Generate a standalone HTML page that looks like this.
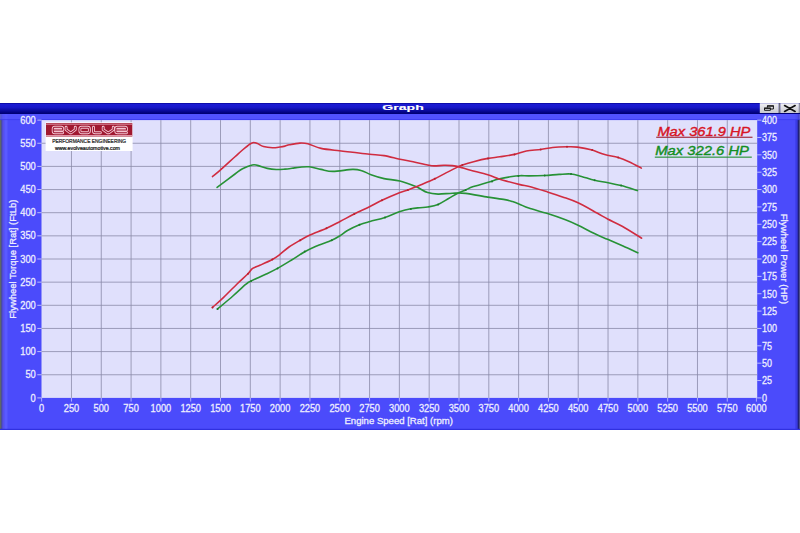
<!DOCTYPE html>
<html><head><meta charset="utf-8"><title>Graph</title>
<style>html,body{margin:0;padding:0;background:#fff;width:800px;height:533px;overflow:hidden;font-family:"Liberation Sans",sans-serif}svg{display:block}</style>
</head><body>
<svg width="800" height="533" viewBox="0 0 800 533">
<defs>
<linearGradient id="tb" x1="0" y1="0" x2="0" y2="1">
<stop offset="0" stop-color="#000088"/>
<stop offset="0.1" stop-color="#1c1cd4"/>
<stop offset="0.4" stop-color="#1818c8"/>
<stop offset="0.92" stop-color="#00007a"/>
<stop offset="1" stop-color="#000070"/>
</linearGradient>
<linearGradient id="btn" x1="0" y1="0" x2="0" y2="1">
<stop offset="0" stop-color="#f0f0f4"/>
<stop offset="1" stop-color="#c8c8d0"/>
</linearGradient>
</defs>
<rect x="0" y="0" width="800" height="533" fill="#ffffff"/>
<rect x="0" y="103" width="800" height="327" fill="#4b4bfb"/>
<rect x="0" y="103" width="1.6" height="327" fill="#5f6868"/>
<rect x="1.6" y="103" width="0.9" height="327" fill="#40408a"/>
<rect x="2.5" y="103" width="2" height="327" fill="#5850e8"/>
<rect x="4.5" y="103" width="3" height="327" fill="#5a5aff"/>
<rect x="795.4" y="103" width="2.2" height="327" fill="#3a3ae4"/>
<rect x="797.6" y="103" width="1.4" height="327" fill="#202078"/>
<rect x="799" y="103" width="1" height="327" fill="#505088"/>
<rect x="0" y="428.8" width="800" height="1.2" fill="#3030e0"/>
<rect x="0" y="103" width="800" height="11" fill="url(#tb)"/>
<rect x="0" y="114" width="800" height="5" fill="#5656ff" opacity="0.7"/>
<rect x="0" y="119" width="800" height="1.1" fill="#3c3cf0" opacity="0.8"/>
<text x="403" y="110.0" fill="#ffffff" stroke="#ffffff" stroke-width="0.1" font-family="Liberation Sans" font-weight="bold" font-size="6.6" textLength="41.5" lengthAdjust="spacingAndGlyphs" text-anchor="middle">Graph</text>
<rect x="759.8" y="103.2" width="19" height="9.8" fill="url(#btn)"/>
<rect x="780.2" y="103.2" width="18.7" height="9.8" fill="url(#btn)"/>
<rect x="778.8" y="103.2" width="1.4" height="9.8" fill="#707078"/>
<rect x="798.9" y="103.2" width="1.1" height="9.8" fill="#9090a0"/>
<path d="M764.5 110.3 V108.2 H770.4 V110.3 Z" fill="none" stroke="#181818" stroke-width="1"/>
<rect x="764" y="107.6" width="6.9" height="1.2" fill="#181818"/>
<path d="M767.4 107.6 V105.9 H773.4 V109 H770.9" fill="none" stroke="#181818" stroke-width="1"/>
<rect x="767" y="105.4" width="6.9" height="1.2" fill="#181818"/>
<path d="M784.6 105.6 L795.1 111.4 M795.1 105.6 L784.6 111.4" stroke="#101010" stroke-width="1.7" stroke-linecap="round"/>
<rect x="41.5" y="120.1" width="715.70" height="277.80" fill="#e0e0fc"/>
<line x1="71.46" y1="120.1" x2="71.46" y2="397.9" stroke="#8a8aa8" stroke-width="0.8"/>
<line x1="101.27" y1="120.1" x2="101.27" y2="397.9" stroke="#8a8aa8" stroke-width="0.8"/>
<line x1="131.08" y1="120.1" x2="131.08" y2="397.9" stroke="#8a8aa8" stroke-width="0.8"/>
<line x1="160.89" y1="120.1" x2="160.89" y2="397.9" stroke="#8a8aa8" stroke-width="0.8"/>
<line x1="190.70" y1="120.1" x2="190.70" y2="397.9" stroke="#8a8aa8" stroke-width="0.8"/>
<line x1="220.51" y1="120.1" x2="220.51" y2="397.9" stroke="#8a8aa8" stroke-width="0.8"/>
<line x1="250.32" y1="120.1" x2="250.32" y2="397.9" stroke="#8a8aa8" stroke-width="0.8"/>
<line x1="280.13" y1="120.1" x2="280.13" y2="397.9" stroke="#8a8aa8" stroke-width="0.8"/>
<line x1="309.94" y1="120.1" x2="309.94" y2="397.9" stroke="#8a8aa8" stroke-width="0.8"/>
<line x1="339.75" y1="120.1" x2="339.75" y2="397.9" stroke="#8a8aa8" stroke-width="0.8"/>
<line x1="369.56" y1="120.1" x2="369.56" y2="397.9" stroke="#8a8aa8" stroke-width="0.8"/>
<line x1="399.37" y1="120.1" x2="399.37" y2="397.9" stroke="#8a8aa8" stroke-width="0.8"/>
<line x1="429.18" y1="120.1" x2="429.18" y2="397.9" stroke="#8a8aa8" stroke-width="0.8"/>
<line x1="458.99" y1="120.1" x2="458.99" y2="397.9" stroke="#8a8aa8" stroke-width="0.8"/>
<line x1="488.80" y1="120.1" x2="488.80" y2="397.9" stroke="#8a8aa8" stroke-width="0.8"/>
<line x1="518.61" y1="120.1" x2="518.61" y2="397.9" stroke="#8a8aa8" stroke-width="0.8"/>
<line x1="548.42" y1="120.1" x2="548.42" y2="397.9" stroke="#8a8aa8" stroke-width="0.8"/>
<line x1="578.23" y1="120.1" x2="578.23" y2="397.9" stroke="#8a8aa8" stroke-width="0.8"/>
<line x1="608.04" y1="120.1" x2="608.04" y2="397.9" stroke="#8a8aa8" stroke-width="0.8"/>
<line x1="637.85" y1="120.1" x2="637.85" y2="397.9" stroke="#8a8aa8" stroke-width="0.8"/>
<line x1="667.66" y1="120.1" x2="667.66" y2="397.9" stroke="#8a8aa8" stroke-width="0.8"/>
<line x1="697.47" y1="120.1" x2="697.47" y2="397.9" stroke="#8a8aa8" stroke-width="0.8"/>
<line x1="727.28" y1="120.1" x2="727.28" y2="397.9" stroke="#8a8aa8" stroke-width="0.8"/>
<line x1="41.5" y1="143.25" x2="757.2" y2="143.25" stroke="#8a8aa8" stroke-width="0.8"/>
<line x1="41.5" y1="166.40" x2="757.2" y2="166.40" stroke="#8a8aa8" stroke-width="0.8"/>
<line x1="41.5" y1="189.55" x2="757.2" y2="189.55" stroke="#8a8aa8" stroke-width="0.8"/>
<line x1="41.5" y1="212.70" x2="757.2" y2="212.70" stroke="#8a8aa8" stroke-width="0.8"/>
<line x1="41.5" y1="235.85" x2="757.2" y2="235.85" stroke="#8a8aa8" stroke-width="0.8"/>
<line x1="41.5" y1="259.00" x2="757.2" y2="259.00" stroke="#8a8aa8" stroke-width="0.8"/>
<line x1="41.5" y1="282.15" x2="757.2" y2="282.15" stroke="#8a8aa8" stroke-width="0.8"/>
<line x1="41.5" y1="305.30" x2="757.2" y2="305.30" stroke="#8a8aa8" stroke-width="0.8"/>
<line x1="41.5" y1="328.45" x2="757.2" y2="328.45" stroke="#8a8aa8" stroke-width="0.8"/>
<line x1="41.5" y1="351.60" x2="757.2" y2="351.60" stroke="#8a8aa8" stroke-width="0.8"/>
<line x1="41.5" y1="374.75" x2="757.2" y2="374.75" stroke="#8a8aa8" stroke-width="0.8"/>
<line x1="37.3" y1="397.90" x2="41.5" y2="397.90" stroke="#c8c8ff" stroke-width="0.9"/>
<text x="35.8" y="401.50" fill="#eeeeff" stroke="#eeeeff" stroke-width="0.28" font-family="Liberation Sans" font-size="10.3" text-anchor="end" textLength="5.20" lengthAdjust="spacingAndGlyphs">0</text>
<line x1="37.3" y1="374.75" x2="41.5" y2="374.75" stroke="#c8c8ff" stroke-width="0.9"/>
<text x="35.8" y="378.35" fill="#eeeeff" stroke="#eeeeff" stroke-width="0.28" font-family="Liberation Sans" font-size="10.3" text-anchor="end" textLength="10.40" lengthAdjust="spacingAndGlyphs">50</text>
<line x1="37.3" y1="351.60" x2="41.5" y2="351.60" stroke="#c8c8ff" stroke-width="0.9"/>
<text x="35.8" y="355.20" fill="#eeeeff" stroke="#eeeeff" stroke-width="0.28" font-family="Liberation Sans" font-size="10.3" text-anchor="end" textLength="15.60" lengthAdjust="spacingAndGlyphs">100</text>
<line x1="37.3" y1="328.45" x2="41.5" y2="328.45" stroke="#c8c8ff" stroke-width="0.9"/>
<text x="35.8" y="332.05" fill="#eeeeff" stroke="#eeeeff" stroke-width="0.28" font-family="Liberation Sans" font-size="10.3" text-anchor="end" textLength="15.60" lengthAdjust="spacingAndGlyphs">150</text>
<line x1="37.3" y1="305.30" x2="41.5" y2="305.30" stroke="#c8c8ff" stroke-width="0.9"/>
<text x="35.8" y="308.90" fill="#eeeeff" stroke="#eeeeff" stroke-width="0.28" font-family="Liberation Sans" font-size="10.3" text-anchor="end" textLength="15.60" lengthAdjust="spacingAndGlyphs">200</text>
<line x1="37.3" y1="282.15" x2="41.5" y2="282.15" stroke="#c8c8ff" stroke-width="0.9"/>
<text x="35.8" y="285.75" fill="#eeeeff" stroke="#eeeeff" stroke-width="0.28" font-family="Liberation Sans" font-size="10.3" text-anchor="end" textLength="15.60" lengthAdjust="spacingAndGlyphs">250</text>
<line x1="37.3" y1="259.00" x2="41.5" y2="259.00" stroke="#c8c8ff" stroke-width="0.9"/>
<text x="35.8" y="262.60" fill="#eeeeff" stroke="#eeeeff" stroke-width="0.28" font-family="Liberation Sans" font-size="10.3" text-anchor="end" textLength="15.60" lengthAdjust="spacingAndGlyphs">300</text>
<line x1="37.3" y1="235.85" x2="41.5" y2="235.85" stroke="#c8c8ff" stroke-width="0.9"/>
<text x="35.8" y="239.45" fill="#eeeeff" stroke="#eeeeff" stroke-width="0.28" font-family="Liberation Sans" font-size="10.3" text-anchor="end" textLength="15.60" lengthAdjust="spacingAndGlyphs">350</text>
<line x1="37.3" y1="212.70" x2="41.5" y2="212.70" stroke="#c8c8ff" stroke-width="0.9"/>
<text x="35.8" y="216.30" fill="#eeeeff" stroke="#eeeeff" stroke-width="0.28" font-family="Liberation Sans" font-size="10.3" text-anchor="end" textLength="15.60" lengthAdjust="spacingAndGlyphs">400</text>
<line x1="37.3" y1="189.55" x2="41.5" y2="189.55" stroke="#c8c8ff" stroke-width="0.9"/>
<text x="35.8" y="193.15" fill="#eeeeff" stroke="#eeeeff" stroke-width="0.28" font-family="Liberation Sans" font-size="10.3" text-anchor="end" textLength="15.60" lengthAdjust="spacingAndGlyphs">450</text>
<line x1="37.3" y1="166.40" x2="41.5" y2="166.40" stroke="#c8c8ff" stroke-width="0.9"/>
<text x="35.8" y="170.00" fill="#eeeeff" stroke="#eeeeff" stroke-width="0.28" font-family="Liberation Sans" font-size="10.3" text-anchor="end" textLength="15.60" lengthAdjust="spacingAndGlyphs">500</text>
<line x1="37.3" y1="143.25" x2="41.5" y2="143.25" stroke="#c8c8ff" stroke-width="0.9"/>
<text x="35.8" y="146.85" fill="#eeeeff" stroke="#eeeeff" stroke-width="0.28" font-family="Liberation Sans" font-size="10.3" text-anchor="end" textLength="15.60" lengthAdjust="spacingAndGlyphs">550</text>
<line x1="37.3" y1="120.10" x2="41.5" y2="120.10" stroke="#c8c8ff" stroke-width="0.9"/>
<text x="35.8" y="123.70" fill="#eeeeff" stroke="#eeeeff" stroke-width="0.28" font-family="Liberation Sans" font-size="10.3" text-anchor="end" textLength="15.60" lengthAdjust="spacingAndGlyphs">600</text>
<line x1="757.2" y1="397.90" x2="761.5" y2="397.90" stroke="#c8c8ff" stroke-width="0.9"/>
<text x="762.0" y="401.70" fill="#eeeeff" stroke="#eeeeff" stroke-width="0.28" font-family="Liberation Sans" font-size="10.3" text-anchor="start" textLength="5.00" lengthAdjust="spacingAndGlyphs">0</text>
<line x1="757.2" y1="380.54" x2="761.5" y2="380.54" stroke="#c8c8ff" stroke-width="0.9"/>
<text x="762.0" y="384.34" fill="#eeeeff" stroke="#eeeeff" stroke-width="0.28" font-family="Liberation Sans" font-size="10.3" text-anchor="start" textLength="10.00" lengthAdjust="spacingAndGlyphs">25</text>
<line x1="757.2" y1="363.17" x2="761.5" y2="363.17" stroke="#c8c8ff" stroke-width="0.9"/>
<text x="762.0" y="366.97" fill="#eeeeff" stroke="#eeeeff" stroke-width="0.28" font-family="Liberation Sans" font-size="10.3" text-anchor="start" textLength="10.00" lengthAdjust="spacingAndGlyphs">50</text>
<line x1="757.2" y1="345.81" x2="761.5" y2="345.81" stroke="#c8c8ff" stroke-width="0.9"/>
<text x="762.0" y="349.61" fill="#eeeeff" stroke="#eeeeff" stroke-width="0.28" font-family="Liberation Sans" font-size="10.3" text-anchor="start" textLength="10.00" lengthAdjust="spacingAndGlyphs">75</text>
<line x1="757.2" y1="328.45" x2="761.5" y2="328.45" stroke="#c8c8ff" stroke-width="0.9"/>
<text x="762.0" y="332.25" fill="#eeeeff" stroke="#eeeeff" stroke-width="0.28" font-family="Liberation Sans" font-size="10.3" text-anchor="start" textLength="15.00" lengthAdjust="spacingAndGlyphs">100</text>
<line x1="757.2" y1="311.09" x2="761.5" y2="311.09" stroke="#c8c8ff" stroke-width="0.9"/>
<text x="762.0" y="314.89" fill="#eeeeff" stroke="#eeeeff" stroke-width="0.28" font-family="Liberation Sans" font-size="10.3" text-anchor="start" textLength="15.00" lengthAdjust="spacingAndGlyphs">125</text>
<line x1="757.2" y1="293.73" x2="761.5" y2="293.73" stroke="#c8c8ff" stroke-width="0.9"/>
<text x="762.0" y="297.53" fill="#eeeeff" stroke="#eeeeff" stroke-width="0.28" font-family="Liberation Sans" font-size="10.3" text-anchor="start" textLength="15.00" lengthAdjust="spacingAndGlyphs">150</text>
<line x1="757.2" y1="276.36" x2="761.5" y2="276.36" stroke="#c8c8ff" stroke-width="0.9"/>
<text x="762.0" y="280.16" fill="#eeeeff" stroke="#eeeeff" stroke-width="0.28" font-family="Liberation Sans" font-size="10.3" text-anchor="start" textLength="15.00" lengthAdjust="spacingAndGlyphs">175</text>
<line x1="757.2" y1="259.00" x2="761.5" y2="259.00" stroke="#c8c8ff" stroke-width="0.9"/>
<text x="762.0" y="262.80" fill="#eeeeff" stroke="#eeeeff" stroke-width="0.28" font-family="Liberation Sans" font-size="10.3" text-anchor="start" textLength="15.00" lengthAdjust="spacingAndGlyphs">200</text>
<line x1="757.2" y1="241.64" x2="761.5" y2="241.64" stroke="#c8c8ff" stroke-width="0.9"/>
<text x="762.0" y="245.44" fill="#eeeeff" stroke="#eeeeff" stroke-width="0.28" font-family="Liberation Sans" font-size="10.3" text-anchor="start" textLength="15.00" lengthAdjust="spacingAndGlyphs">225</text>
<line x1="757.2" y1="224.28" x2="761.5" y2="224.28" stroke="#c8c8ff" stroke-width="0.9"/>
<text x="762.0" y="228.08" fill="#eeeeff" stroke="#eeeeff" stroke-width="0.28" font-family="Liberation Sans" font-size="10.3" text-anchor="start" textLength="15.00" lengthAdjust="spacingAndGlyphs">250</text>
<line x1="757.2" y1="206.91" x2="761.5" y2="206.91" stroke="#c8c8ff" stroke-width="0.9"/>
<text x="762.0" y="210.71" fill="#eeeeff" stroke="#eeeeff" stroke-width="0.28" font-family="Liberation Sans" font-size="10.3" text-anchor="start" textLength="15.00" lengthAdjust="spacingAndGlyphs">275</text>
<line x1="757.2" y1="189.55" x2="761.5" y2="189.55" stroke="#c8c8ff" stroke-width="0.9"/>
<text x="762.0" y="193.35" fill="#eeeeff" stroke="#eeeeff" stroke-width="0.28" font-family="Liberation Sans" font-size="10.3" text-anchor="start" textLength="15.00" lengthAdjust="spacingAndGlyphs">300</text>
<line x1="757.2" y1="172.19" x2="761.5" y2="172.19" stroke="#c8c8ff" stroke-width="0.9"/>
<text x="762.0" y="175.99" fill="#eeeeff" stroke="#eeeeff" stroke-width="0.28" font-family="Liberation Sans" font-size="10.3" text-anchor="start" textLength="15.00" lengthAdjust="spacingAndGlyphs">325</text>
<line x1="757.2" y1="154.83" x2="761.5" y2="154.83" stroke="#c8c8ff" stroke-width="0.9"/>
<text x="762.0" y="158.63" fill="#eeeeff" stroke="#eeeeff" stroke-width="0.28" font-family="Liberation Sans" font-size="10.3" text-anchor="start" textLength="15.00" lengthAdjust="spacingAndGlyphs">350</text>
<line x1="757.2" y1="137.46" x2="761.5" y2="137.46" stroke="#c8c8ff" stroke-width="0.9"/>
<text x="762.0" y="141.26" fill="#eeeeff" stroke="#eeeeff" stroke-width="0.28" font-family="Liberation Sans" font-size="10.3" text-anchor="start" textLength="15.00" lengthAdjust="spacingAndGlyphs">375</text>
<line x1="757.2" y1="120.10" x2="761.5" y2="120.10" stroke="#c8c8ff" stroke-width="0.9"/>
<text x="762.0" y="123.90" fill="#eeeeff" stroke="#eeeeff" stroke-width="0.28" font-family="Liberation Sans" font-size="10.3" text-anchor="start" textLength="15.00" lengthAdjust="spacingAndGlyphs">400</text>
<line x1="41.65" y1="397.9" x2="41.65" y2="401.6" stroke="#c8c8ff" stroke-width="0.8"/>
<text x="41.65" y="412.0" fill="#eeeeff" stroke="#eeeeff" stroke-width="0.28" font-family="Liberation Sans" font-size="10.2" text-anchor="middle" textLength="5.15" lengthAdjust="spacingAndGlyphs">0</text>
<line x1="71.46" y1="397.9" x2="71.46" y2="401.6" stroke="#c8c8ff" stroke-width="0.8"/>
<text x="71.46" y="412.0" fill="#eeeeff" stroke="#eeeeff" stroke-width="0.28" font-family="Liberation Sans" font-size="10.2" text-anchor="middle" textLength="15.45" lengthAdjust="spacingAndGlyphs">250</text>
<line x1="101.27" y1="397.9" x2="101.27" y2="401.6" stroke="#c8c8ff" stroke-width="0.8"/>
<text x="101.27" y="412.0" fill="#eeeeff" stroke="#eeeeff" stroke-width="0.28" font-family="Liberation Sans" font-size="10.2" text-anchor="middle" textLength="15.45" lengthAdjust="spacingAndGlyphs">500</text>
<line x1="131.08" y1="397.9" x2="131.08" y2="401.6" stroke="#c8c8ff" stroke-width="0.8"/>
<text x="131.08" y="412.0" fill="#eeeeff" stroke="#eeeeff" stroke-width="0.28" font-family="Liberation Sans" font-size="10.2" text-anchor="middle" textLength="15.45" lengthAdjust="spacingAndGlyphs">750</text>
<line x1="160.89" y1="397.9" x2="160.89" y2="401.6" stroke="#c8c8ff" stroke-width="0.8"/>
<text x="160.89" y="412.0" fill="#eeeeff" stroke="#eeeeff" stroke-width="0.28" font-family="Liberation Sans" font-size="10.2" text-anchor="middle" textLength="20.60" lengthAdjust="spacingAndGlyphs">1000</text>
<line x1="190.70" y1="397.9" x2="190.70" y2="401.6" stroke="#c8c8ff" stroke-width="0.8"/>
<text x="190.70" y="412.0" fill="#eeeeff" stroke="#eeeeff" stroke-width="0.28" font-family="Liberation Sans" font-size="10.2" text-anchor="middle" textLength="20.60" lengthAdjust="spacingAndGlyphs">1250</text>
<line x1="220.51" y1="397.9" x2="220.51" y2="401.6" stroke="#c8c8ff" stroke-width="0.8"/>
<text x="220.51" y="412.0" fill="#eeeeff" stroke="#eeeeff" stroke-width="0.28" font-family="Liberation Sans" font-size="10.2" text-anchor="middle" textLength="20.60" lengthAdjust="spacingAndGlyphs">1500</text>
<line x1="250.32" y1="397.9" x2="250.32" y2="401.6" stroke="#c8c8ff" stroke-width="0.8"/>
<text x="250.32" y="412.0" fill="#eeeeff" stroke="#eeeeff" stroke-width="0.28" font-family="Liberation Sans" font-size="10.2" text-anchor="middle" textLength="20.60" lengthAdjust="spacingAndGlyphs">1750</text>
<line x1="280.13" y1="397.9" x2="280.13" y2="401.6" stroke="#c8c8ff" stroke-width="0.8"/>
<text x="280.13" y="412.0" fill="#eeeeff" stroke="#eeeeff" stroke-width="0.28" font-family="Liberation Sans" font-size="10.2" text-anchor="middle" textLength="20.60" lengthAdjust="spacingAndGlyphs">2000</text>
<line x1="309.94" y1="397.9" x2="309.94" y2="401.6" stroke="#c8c8ff" stroke-width="0.8"/>
<text x="309.94" y="412.0" fill="#eeeeff" stroke="#eeeeff" stroke-width="0.28" font-family="Liberation Sans" font-size="10.2" text-anchor="middle" textLength="20.60" lengthAdjust="spacingAndGlyphs">2250</text>
<line x1="339.75" y1="397.9" x2="339.75" y2="401.6" stroke="#c8c8ff" stroke-width="0.8"/>
<text x="339.75" y="412.0" fill="#eeeeff" stroke="#eeeeff" stroke-width="0.28" font-family="Liberation Sans" font-size="10.2" text-anchor="middle" textLength="20.60" lengthAdjust="spacingAndGlyphs">2500</text>
<line x1="369.56" y1="397.9" x2="369.56" y2="401.6" stroke="#c8c8ff" stroke-width="0.8"/>
<text x="369.56" y="412.0" fill="#eeeeff" stroke="#eeeeff" stroke-width="0.28" font-family="Liberation Sans" font-size="10.2" text-anchor="middle" textLength="20.60" lengthAdjust="spacingAndGlyphs">2750</text>
<line x1="399.37" y1="397.9" x2="399.37" y2="401.6" stroke="#c8c8ff" stroke-width="0.8"/>
<text x="399.37" y="412.0" fill="#eeeeff" stroke="#eeeeff" stroke-width="0.28" font-family="Liberation Sans" font-size="10.2" text-anchor="middle" textLength="20.60" lengthAdjust="spacingAndGlyphs">3000</text>
<line x1="429.18" y1="397.9" x2="429.18" y2="401.6" stroke="#c8c8ff" stroke-width="0.8"/>
<text x="429.18" y="412.0" fill="#eeeeff" stroke="#eeeeff" stroke-width="0.28" font-family="Liberation Sans" font-size="10.2" text-anchor="middle" textLength="20.60" lengthAdjust="spacingAndGlyphs">3250</text>
<line x1="458.99" y1="397.9" x2="458.99" y2="401.6" stroke="#c8c8ff" stroke-width="0.8"/>
<text x="458.99" y="412.0" fill="#eeeeff" stroke="#eeeeff" stroke-width="0.28" font-family="Liberation Sans" font-size="10.2" text-anchor="middle" textLength="20.60" lengthAdjust="spacingAndGlyphs">3500</text>
<line x1="488.80" y1="397.9" x2="488.80" y2="401.6" stroke="#c8c8ff" stroke-width="0.8"/>
<text x="488.80" y="412.0" fill="#eeeeff" stroke="#eeeeff" stroke-width="0.28" font-family="Liberation Sans" font-size="10.2" text-anchor="middle" textLength="20.60" lengthAdjust="spacingAndGlyphs">3750</text>
<line x1="518.61" y1="397.9" x2="518.61" y2="401.6" stroke="#c8c8ff" stroke-width="0.8"/>
<text x="518.61" y="412.0" fill="#eeeeff" stroke="#eeeeff" stroke-width="0.28" font-family="Liberation Sans" font-size="10.2" text-anchor="middle" textLength="20.60" lengthAdjust="spacingAndGlyphs">4000</text>
<line x1="548.42" y1="397.9" x2="548.42" y2="401.6" stroke="#c8c8ff" stroke-width="0.8"/>
<text x="548.42" y="412.0" fill="#eeeeff" stroke="#eeeeff" stroke-width="0.28" font-family="Liberation Sans" font-size="10.2" text-anchor="middle" textLength="20.60" lengthAdjust="spacingAndGlyphs">4250</text>
<line x1="578.23" y1="397.9" x2="578.23" y2="401.6" stroke="#c8c8ff" stroke-width="0.8"/>
<text x="578.23" y="412.0" fill="#eeeeff" stroke="#eeeeff" stroke-width="0.28" font-family="Liberation Sans" font-size="10.2" text-anchor="middle" textLength="20.60" lengthAdjust="spacingAndGlyphs">4500</text>
<line x1="608.04" y1="397.9" x2="608.04" y2="401.6" stroke="#c8c8ff" stroke-width="0.8"/>
<text x="608.04" y="412.0" fill="#eeeeff" stroke="#eeeeff" stroke-width="0.28" font-family="Liberation Sans" font-size="10.2" text-anchor="middle" textLength="20.60" lengthAdjust="spacingAndGlyphs">4750</text>
<line x1="637.85" y1="397.9" x2="637.85" y2="401.6" stroke="#c8c8ff" stroke-width="0.8"/>
<text x="637.85" y="412.0" fill="#eeeeff" stroke="#eeeeff" stroke-width="0.28" font-family="Liberation Sans" font-size="10.2" text-anchor="middle" textLength="20.60" lengthAdjust="spacingAndGlyphs">5000</text>
<line x1="667.66" y1="397.9" x2="667.66" y2="401.6" stroke="#c8c8ff" stroke-width="0.8"/>
<text x="667.66" y="412.0" fill="#eeeeff" stroke="#eeeeff" stroke-width="0.28" font-family="Liberation Sans" font-size="10.2" text-anchor="middle" textLength="20.60" lengthAdjust="spacingAndGlyphs">5250</text>
<line x1="697.47" y1="397.9" x2="697.47" y2="401.6" stroke="#c8c8ff" stroke-width="0.8"/>
<text x="697.47" y="412.0" fill="#eeeeff" stroke="#eeeeff" stroke-width="0.28" font-family="Liberation Sans" font-size="10.2" text-anchor="middle" textLength="20.60" lengthAdjust="spacingAndGlyphs">5500</text>
<line x1="727.28" y1="397.9" x2="727.28" y2="401.6" stroke="#c8c8ff" stroke-width="0.8"/>
<text x="727.28" y="412.0" fill="#eeeeff" stroke="#eeeeff" stroke-width="0.28" font-family="Liberation Sans" font-size="10.2" text-anchor="middle" textLength="20.60" lengthAdjust="spacingAndGlyphs">5750</text>
<line x1="756.40" y1="397.9" x2="756.40" y2="401.6" stroke="#c8c8ff" stroke-width="0.8"/>
<text x="756.40" y="412.0" fill="#eeeeff" stroke="#eeeeff" stroke-width="0.28" font-family="Liberation Sans" font-size="10.2" text-anchor="middle" textLength="20.60" lengthAdjust="spacingAndGlyphs">6000</text>
<text x="398.7" y="424.0" fill="#eeeeff" stroke="#eeeeff" stroke-width="0.28" font-family="Liberation Sans" font-size="9.5" text-anchor="middle" textLength="108.5" lengthAdjust="spacingAndGlyphs">Engine Speed [Rat] (rpm)</text>
<text transform="translate(16.2 259.2) rotate(-90)" x="0" y="0" fill="#eeeeff" stroke="#eeeeff" stroke-width="0.28" font-family="Liberation Sans" font-size="9.5" text-anchor="middle" textLength="119" lengthAdjust="spacingAndGlyphs">Flywheel Torque [Rat] (FtLb)</text>
<text transform="translate(781.2 258.9) rotate(90)" x="0" y="0" fill="#eeeeff" stroke="#eeeeff" stroke-width="0.28" font-family="Liberation Sans" font-size="9.5" text-anchor="middle" textLength="90.5" lengthAdjust="spacingAndGlyphs">Flywheel Power (HP)</text>
<path d="M217.10 187.40 C220.08 185.17 230.77 177.11 235.00 174.00 C239.23 170.89 239.62 170.25 242.50 168.75 C245.38 167.25 249.75 165.56 252.25 165.00 C254.75 164.44 255.00 164.83 257.50 165.40 C260.00 165.97 264.12 167.72 267.25 168.40 C270.38 169.08 273.29 169.38 276.25 169.50 C279.21 169.62 282.38 169.30 285.00 169.10 C287.62 168.90 289.52 168.62 292.00 168.30 C294.48 167.98 297.03 167.45 299.90 167.20 C302.77 166.95 305.68 166.43 309.20 166.80 C312.72 167.17 317.05 168.63 321.00 169.40 C324.95 170.17 327.63 171.40 332.90 171.40 C338.17 171.40 347.78 169.52 352.60 169.40 C357.42 169.28 358.73 169.82 361.80 170.70 C364.87 171.58 367.28 173.38 371.00 174.70 C374.72 176.02 379.28 177.55 384.10 178.60 C388.92 179.65 394.62 179.67 399.90 181.00 C405.18 182.33 411.18 184.67 415.80 186.60 C420.42 188.53 423.88 191.35 427.60 192.60 C431.32 193.85 433.93 194.00 438.10 194.10 C442.27 194.20 448.03 193.32 452.60 193.20 C457.17 193.08 459.63 192.75 465.50 193.40 C471.37 194.05 481.23 196.07 487.80 197.10 C494.37 198.13 500.78 198.85 504.90 199.60 C509.02 200.35 509.98 200.80 512.50 201.60 C515.02 202.40 517.29 203.32 520.00 204.40 C522.71 205.48 524.17 206.57 528.75 208.10 C533.33 209.63 541.38 211.65 547.50 213.60 C553.62 215.55 560.50 217.90 565.50 219.80 C570.50 221.70 572.25 222.50 577.50 225.00 C582.75 227.50 591.98 232.42 597.00 234.80 C602.02 237.18 603.27 237.43 607.60 239.30 C611.93 241.17 617.97 243.75 623.00 246.00 C628.03 248.25 635.33 251.67 637.80 252.80" fill="none" stroke="#279236" stroke-width="1.6" stroke-linejoin="round" stroke-linecap="round"/>
<path d="M217.50 309.10 C220.07 306.92 228.15 300.15 232.90 296.00 C237.65 291.85 242.95 286.72 246.00 284.20 C249.05 281.68 247.92 282.55 251.20 280.90 C254.48 279.25 261.32 276.38 265.70 274.30 C270.08 272.22 273.12 270.82 277.50 268.40 C281.88 265.97 287.46 262.52 292.00 259.75 C296.54 256.98 300.75 254.05 304.75 251.80 C308.75 249.55 311.50 248.18 316.00 246.25 C320.50 244.32 327.75 242.00 331.75 240.25 C335.75 238.50 337.38 237.38 340.00 235.75 C342.62 234.12 344.25 232.32 347.50 230.50 C350.75 228.68 355.75 226.30 359.50 224.80 C363.25 223.30 365.75 222.72 370.00 221.50 C374.25 220.28 380.00 219.10 385.00 217.45 C390.00 215.80 395.68 213.04 400.00 211.60 C404.32 210.16 407.57 209.45 410.90 208.80 C414.23 208.15 417.22 208.00 420.00 207.70 C422.78 207.40 424.58 207.55 427.60 207.00 C430.62 206.45 434.60 205.82 438.10 204.40 C441.60 202.98 445.32 200.37 448.60 198.50 C451.88 196.63 454.95 194.63 457.80 193.20 C460.65 191.77 463.10 191.00 465.70 189.90 C468.30 188.80 468.83 188.13 473.40 186.60 C477.97 185.07 488.73 182.02 493.10 180.70 C497.47 179.38 496.75 179.35 499.60 178.70 C502.45 178.05 506.80 177.30 510.20 176.80 C513.60 176.30 516.88 175.85 520.00 175.70 C523.12 175.55 524.78 175.93 528.90 175.90 C533.02 175.87 539.67 175.75 544.70 175.50 C549.73 175.25 554.72 174.65 559.10 174.40 C563.48 174.15 567.27 173.67 571.00 174.00 C574.73 174.33 577.57 175.35 581.50 176.40 C585.43 177.45 590.17 179.25 594.60 180.30 C599.03 181.35 603.68 181.82 608.10 182.70 C612.52 183.58 616.22 184.28 621.10 185.60 C625.98 186.92 634.68 189.77 637.40 190.60" fill="none" stroke="#279236" stroke-width="1.6" stroke-linejoin="round" stroke-linecap="round"/>
<path d="M212.50 176.60 C213.70 175.62 215.95 174.01 219.70 170.70 C223.45 167.39 231.20 160.20 235.00 156.75 C238.80 153.30 240.00 152.12 242.50 150.00 C245.00 147.88 248.12 145.25 250.00 144.00 C251.88 142.75 252.50 142.57 253.75 142.50 C255.00 142.43 255.88 142.92 257.50 143.60 C259.12 144.28 261.00 145.91 263.50 146.60 C266.00 147.29 269.75 147.68 272.50 147.75 C275.25 147.82 277.92 147.28 280.00 147.00 C282.08 146.72 283.43 146.47 285.00 146.10 C286.57 145.73 286.92 145.30 289.40 144.80 C291.88 144.30 296.82 143.27 299.90 143.10 C302.98 142.93 304.38 142.92 307.90 143.80 C311.42 144.68 315.75 147.23 321.00 148.40 C326.25 149.57 334.13 150.15 339.40 150.80 C344.67 151.45 347.57 151.72 352.60 152.30 C357.63 152.88 364.35 153.75 369.60 154.30 C374.85 154.85 379.05 154.78 384.10 155.60 C389.15 156.42 395.07 158.18 399.90 159.20 C404.73 160.22 408.48 160.73 413.10 161.70 C417.72 162.67 424.10 164.30 427.60 165.00 C431.10 165.70 431.38 165.85 434.10 165.90 C436.82 165.95 440.85 165.35 443.90 165.30 C446.95 165.25 449.72 165.30 452.40 165.60 C455.08 165.90 457.13 166.37 460.00 167.10 C462.87 167.83 464.97 168.72 469.60 170.00 C474.23 171.28 483.02 173.35 487.80 174.80 C492.58 176.25 495.02 177.60 498.30 178.70 C501.58 179.80 503.88 180.42 507.50 181.40 C511.12 182.38 516.04 183.68 520.00 184.60 C523.96 185.52 526.67 185.68 531.25 186.90 C535.83 188.12 542.29 190.23 547.50 191.90 C552.71 193.57 557.50 195.12 562.50 196.90 C567.50 198.68 571.75 199.92 577.50 202.60 C583.25 205.28 591.98 210.27 597.00 213.00 C602.02 215.73 603.33 216.75 607.60 219.00 C611.87 221.25 616.93 223.30 622.60 226.50 C628.27 229.70 638.43 236.25 641.60 238.20" fill="none" stroke="#d02c40" stroke-width="1.6" stroke-linejoin="round" stroke-linecap="round"/>
<path d="M212.50 307.40 C214.13 305.93 218.25 302.47 222.30 298.60 C226.35 294.73 232.52 288.35 236.80 284.20 C241.08 280.05 245.37 276.33 248.00 273.70 C250.63 271.07 250.53 269.83 252.60 268.40 C254.67 266.97 257.12 266.58 260.40 265.10 C263.68 263.62 269.23 261.13 272.30 259.50 C275.37 257.87 276.02 257.38 278.80 255.30 C281.58 253.22 285.43 249.51 289.00 247.00 C292.57 244.49 296.75 242.25 300.25 240.25 C303.75 238.25 305.62 237.00 310.00 235.00 C314.38 233.00 321.50 230.50 326.50 228.25 C331.50 226.00 335.38 223.88 340.00 221.50 C344.62 219.12 349.25 216.50 354.25 214.00 C359.25 211.50 365.38 208.80 370.00 206.50 C374.62 204.20 377.00 202.55 382.00 200.20 C387.00 197.85 395.68 194.12 400.00 192.40 C404.32 190.68 404.40 191.18 407.90 189.90 C411.40 188.62 416.52 186.55 421.00 184.70 C425.48 182.85 430.63 180.77 434.80 178.80 C438.97 176.83 442.17 174.88 446.00 172.90 C449.83 170.92 455.07 168.22 457.80 166.90 C460.53 165.58 459.77 165.87 462.40 165.00 C465.03 164.13 469.33 162.80 473.60 161.70 C477.87 160.60 483.62 159.22 488.00 158.40 C492.38 157.58 495.48 157.47 499.90 156.80 C504.32 156.13 510.10 155.37 514.50 154.40 C518.90 153.43 521.93 151.82 526.30 151.00 C530.67 150.18 536.32 150.08 540.70 149.50 C545.08 148.92 548.22 147.95 552.60 147.50 C556.98 147.05 562.85 146.87 567.00 146.80 C571.15 146.73 573.30 146.55 577.50 147.10 C581.70 147.65 587.67 148.85 592.20 150.10 C596.73 151.35 600.37 153.38 604.70 154.60 C609.03 155.82 614.07 156.18 618.20 157.40 C622.33 158.62 625.65 160.12 629.50 161.90 C633.35 163.68 639.33 167.07 641.30 168.10" fill="none" stroke="#d02c40" stroke-width="1.6" stroke-linejoin="round" stroke-linecap="round"/>
<circle cx="212.5" cy="307.4" r="1.0" fill="#b82030"/>
<circle cx="248" cy="273.7" r="1.0" fill="#b82030"/>
<circle cx="272.3" cy="259.5" r="1.0" fill="#b82030"/>
<circle cx="300.25" cy="240.25" r="1.0" fill="#b82030"/>
<circle cx="326.5" cy="228.25" r="1.0" fill="#b82030"/>
<circle cx="354.25" cy="214" r="1.0" fill="#b82030"/>
<circle cx="382" cy="200.2" r="1.0" fill="#b82030"/>
<circle cx="407.9" cy="189.9" r="1.0" fill="#b82030"/>
<circle cx="434.8" cy="178.8" r="1.0" fill="#b82030"/>
<circle cx="462.4" cy="165" r="1.0" fill="#b82030"/>
<circle cx="488" cy="158.4" r="1.0" fill="#b82030"/>
<circle cx="514.5" cy="154.4" r="1.0" fill="#b82030"/>
<circle cx="540.7" cy="149.5" r="1.0" fill="#b82030"/>
<circle cx="567" cy="146.8" r="1.0" fill="#b82030"/>
<circle cx="592.2" cy="150.1" r="1.0" fill="#b82030"/>
<circle cx="618.2" cy="157.4" r="1.0" fill="#b82030"/>
<circle cx="217.5" cy="309.1" r="1.0" fill="#1a7a28"/>
<circle cx="251.2" cy="280.9" r="1.0" fill="#1a7a28"/>
<circle cx="277.5" cy="268.4" r="1.0" fill="#1a7a28"/>
<circle cx="304.75" cy="251.5" r="1.0" fill="#1a7a28"/>
<circle cx="331.75" cy="240.25" r="1.0" fill="#1a7a28"/>
<circle cx="359.5" cy="224.8" r="1.0" fill="#1a7a28"/>
<circle cx="385" cy="217.45" r="1.0" fill="#1a7a28"/>
<circle cx="410.9" cy="208.9" r="1.0" fill="#1a7a28"/>
<circle cx="438.1" cy="204.4" r="1.0" fill="#1a7a28"/>
<circle cx="465.7" cy="189.9" r="1.0" fill="#1a7a28"/>
<circle cx="492" cy="181.4" r="1.0" fill="#1a7a28"/>
<circle cx="518.4" cy="176" r="1.0" fill="#1a7a28"/>
<circle cx="544.7" cy="175.5" r="1.0" fill="#1a7a28"/>
<circle cx="571" cy="174" r="1.0" fill="#1a7a28"/>
<circle cx="594.6" cy="180.3" r="1.0" fill="#1a7a28"/>
<circle cx="621.1" cy="185.6" r="1.0" fill="#1a7a28"/>
<text x="657.4" y="135.9" fill="#d81424" stroke="#d81424" stroke-width="0.4" font-family="Liberation Sans" font-style="italic" font-size="13.4" textLength="93" lengthAdjust="spacingAndGlyphs">Max 361.9 HP</text>
<rect x="656.2" y="136.7" width="96.3" height="1.1" fill="#a02030"/>
<text x="655.3" y="155.1" fill="#128f22" stroke="#128f22" stroke-width="0.4" font-family="Liberation Sans" font-style="italic" font-size="13.4" textLength="93.7" lengthAdjust="spacingAndGlyphs">Max 322.6 HP</text>
<rect x="654.8" y="156.6" width="97" height="1.1" fill="#209030"/>
<rect x="45.6" y="122.4" width="87" height="28.6" fill="#ffffff"/>
<rect x="46" y="123" width="86.3" height="13.5" fill="#a01830"/>
<rect x="46" y="123.7" width="86.3" height="0.8" fill="#f0b8c8"/>
<rect x="46" y="135" width="86.3" height="0.8" fill="#f0b8c8"/>
<path d="M53.2 130.0 H62.7 V128.8 Q62.7 127.3 61.2 127.3 H54.7 Q53.2 127.3 53.2 128.8 V131.2 Q53.2 132.7 54.7 132.7 H62.7 M66.1 127.3 V129.6 L70.1 132.7 H71.29999999999998 L75.3 129.6 V127.3 M81.5 127.3 H87.80000000000001 Q89.4 127.3 89.4 128.9 V131.1 Q89.4 132.7 87.80000000000001 132.7 H81.5 Q79.9 132.7 79.9 131.1 V128.9 Q79.9 127.3 81.5 127.3 Z M93.5 127.3 V131.2 Q93.5 132.7 95.0 132.7 H100.4 M103.2 127.3 V129.6 L107.65 132.7 H108.85 L113.3 129.6 V127.3 M115.8 130.0 H126.5 V128.8 Q126.5 127.3 125.0 127.3 H117.3 Q115.8 127.3 115.8 128.8 V131.2 Q115.8 132.7 117.3 132.7 H126.5 " fill="none" stroke="#f4c4d0" stroke-width="2.9" stroke-linejoin="round" stroke-linecap="round"/>
<path d="M53.2 130.0 H62.7 V128.8 Q62.7 127.3 61.2 127.3 H54.7 Q53.2 127.3 53.2 128.8 V131.2 Q53.2 132.7 54.7 132.7 H62.7 M66.1 127.3 V129.6 L70.1 132.7 H71.29999999999998 L75.3 129.6 V127.3 M81.5 127.3 H87.80000000000001 Q89.4 127.3 89.4 128.9 V131.1 Q89.4 132.7 87.80000000000001 132.7 H81.5 Q79.9 132.7 79.9 131.1 V128.9 Q79.9 127.3 81.5 127.3 Z M93.5 127.3 V131.2 Q93.5 132.7 95.0 132.7 H100.4 M103.2 127.3 V129.6 L107.65 132.7 H108.85 L113.3 129.6 V127.3 M115.8 130.0 H126.5 V128.8 Q126.5 127.3 125.0 127.3 H117.3 Q115.8 127.3 115.8 128.8 V131.2 Q115.8 132.7 117.3 132.7 H126.5 " fill="none" stroke="#9a1430" stroke-width="1.1" stroke-linejoin="round" stroke-linecap="round"/>
<text x="89.2" y="142.9" fill="#1a1a1a" stroke="#1a1a1a" stroke-width="0.22" font-family="Liberation Sans" font-size="6.0" text-anchor="middle" textLength="74" lengthAdjust="spacingAndGlyphs">PERFORMANCE ENGINEERING</text>
<text x="87.5" y="149.6" fill="#121212" stroke="#121212" stroke-width="0.22" font-family="Liberation Sans" font-size="5.2" text-anchor="middle" textLength="65" lengthAdjust="spacingAndGlyphs">www.evolveautomotive.com</text>
</svg>
</body></html>
